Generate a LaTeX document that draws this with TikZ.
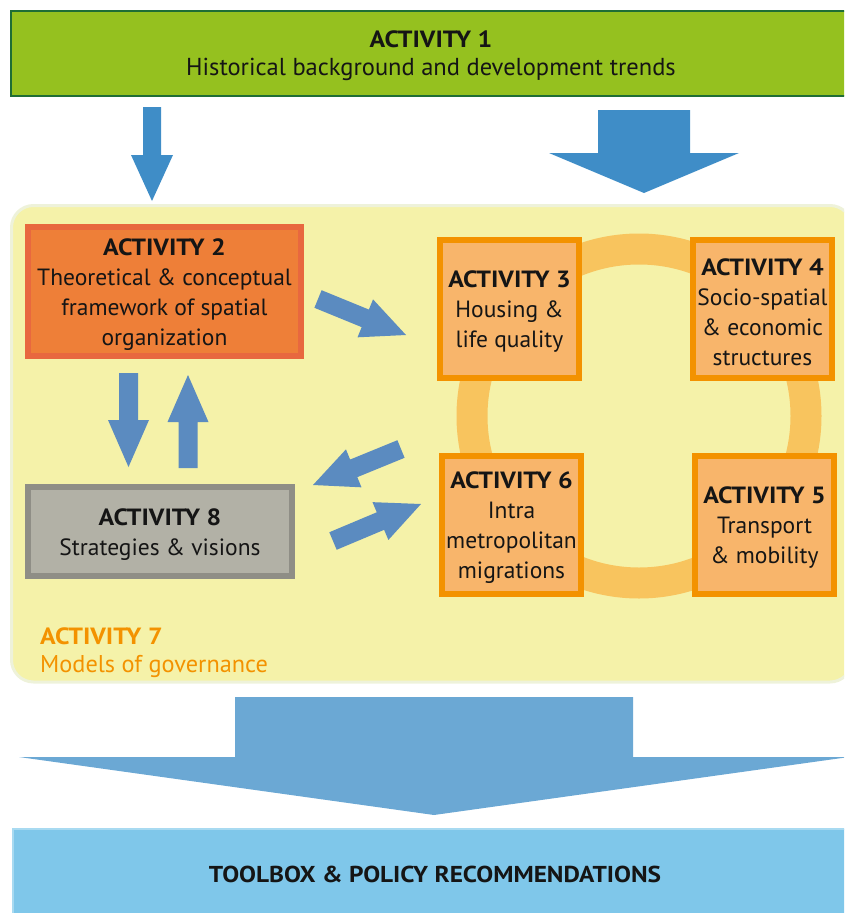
\documentclass[tikz,border=0pt]{standalone}
\usepackage{fontspec}
\setmainfont{PT Sans}[BoldFeatures={FakeStretch=1.1}]
\usetikzlibrary{calc}

\definecolor{actgreen}{HTML}{95C11F}
\definecolor{actgreenline}{HTML}{1F6E35}
\definecolor{panelfill}{HTML}{F5F2A9}
\definecolor{panelline}{HTML}{EEF2DA}
\definecolor{ringc}{HTML}{F8C45E}
\definecolor{redfill}{HTML}{EE7F38}
\definecolor{redline}{HTML}{E8683F}
\definecolor{orfill}{HTML}{F8B56B}
\definecolor{orline}{HTML}{F39200}
\definecolor{grayfill}{HTML}{B2B1A6}
\definecolor{grayline}{HTML}{8F8E86}
\definecolor{toolfill}{HTML}{7FC7EA}
\definecolor{toolline}{HTML}{A8DAF1}
\definecolor{arrtop}{HTML}{3F8DC7}
\definecolor{arrin}{HTML}{5B8BC0}
\definecolor{arrbot}{HTML}{6BA8D4}
\definecolor{inktext}{HTML}{151515}

% block arrow: #1 fill, #2 start, #3 tip, #4 half shaft, #5 half head, #6 head length
\newcommand{\blkarrow}[6]{%
  \coordinate (hb) at ($(#3)!#6!(#2)$);
  \fill[#1] ($(#2)!#4!90:(#3)$) -- ($(hb)!#4!90:(#3)$) -- ($(hb)!#5!90:(#3)$)
    -- (#3) -- ($(hb)!#5!-90:(#3)$) -- ($(hb)!#4!-90:(#3)$)
    -- ($(#2)!#4!-90:(#3)$) -- cycle;
}
% bold heading of an activity box, with a little extra room above it
\newcommand{\acthead}[1]{\rule{0pt}{22.5pt}\textbf{#1}}

\begin{document}
\begin{tikzpicture}[x=1pt,y=-1pt,
  txt/.style={text=inktext, align=center, inner sep=0pt},
  actbox/.style={txt, line width=6pt, font=\fontsize{23.5}{30}\selectfont},
  redbox/.style={actbox, draw=redline, fill=redfill, minimum width=273pt, minimum height=129pt},
  orbox/.style={actbox, draw=orline, fill=orfill, minimum width=139pt, minimum height=138pt},
  graybox/.style={actbox, draw=grayline, fill=grayfill, minimum width=264pt, minimum height=89pt},
]
\useasboundingbox (0,0) rectangle (844,913);
\clip (0,0) rectangle (844,913);

% Activity 1 banner
\node[txt, draw=actgreenline, fill=actgreen, line width=2.5pt,
  minimum width=840pt, minimum height=85pt,
  font=\fontsize{24.5}{28}\selectfont] (act1) at (431,53.5)
  {\rule{0pt}{21.5pt}{\fontsize{23.5}{28}\selectfont\textbf{ACTIVITY 1}}\\Historical background and development trends};

% Activity 7 panel with the work packages
\draw[panelline, fill=panelfill, line width=3pt, rounded corners=22pt]
  (11.5,205.5) rectangle (852,682);

% ring linking activities 3--6
\draw[ringc, line width=31pt] (639,416) circle (167pt);

\node[redbox] (act2) at (164.5,291.5)
  {\acthead{ACTIVITY 2}\\Theoretical \& conceptual\\framework of spatial\\organization};
\node[orbox] (act3) at (509.5,309) {\acthead{ACTIVITY 3}\\Housing \&\\life quality};
\node[orbox] (act4) at (762.5,309) {\acthead{ACTIVITY 4}\\Socio-spatial\\\& economic\\structures};
\node[orbox] (act6) at (511.5,524.5) {\acthead{ACTIVITY 6}\\Intra\\metropolitan\\migrations};
\node[orbox] (act5) at (764.5,524.5) {\acthead{ACTIVITY 5}\\Transport\\\& mobility};
\node[graybox] (act8) at (160,531.5) {\acthead{ACTIVITY 8}\\Strategies \& visions};

\node[txt, text=orline, anchor=west, align=left, font=\fontsize{24.3}{28}\selectfont]
  (act7) at (40,653) {{\fontsize{23.5}{28}\selectfont\textbf{ACTIVITY 7}}\\Models of governance};

% Toolbox
\node[txt, draw=toolline, fill=toolfill, line width=1.5pt,
  minimum width=844pt, minimum height=90pt,
  font=\fontsize{23}{28}\selectfont] (tool) at (435,874)
  {\textbf{TOOLBOX \& POLICY RECOMMENDATIONS}};

% arrow end points
\coordinate (t1s) at (152,107);  \coordinate (t1e) at (152,201);
\coordinate (t2s) at (644,110);  \coordinate (t2e) at (644,193);
\coordinate (a23s) at (318,299); \coordinate (a23e) at (406,335);
\coordinate (a28s) at (128.5,373); \coordinate (a28e) at (128.5,467);
\coordinate (a82s) at (188,468); \coordinate (a82e) at (188,375);
\coordinate (a68s) at (401,449); \coordinate (a68e) at (313,485);
\coordinate (a86s) at (333,541); \coordinate (a86e) at (421,504);
\coordinate (bs) at (434,697);   \coordinate (be) at (434,815);

% Activity 1 feeds the panel
\blkarrow{arrtop}{t1s}{t1e}{9pt}{21pt}{46pt}
\blkarrow{arrtop}{t2s}{t2e}{46pt}{95pt}{40pt}

% links inside the panel
\blkarrow{arrin}{a23s}{a23e}{9.5pt}{20.5pt}{44pt}
\blkarrow{arrin}{a28s}{a28e}{9.5pt}{20.5pt}{47pt}
\blkarrow{arrin}{a82s}{a82e}{9.5pt}{20.5pt}{47pt}
\blkarrow{arrin}{a68s}{a68e}{9.5pt}{20.5pt}{44pt}
\blkarrow{arrin}{a86s}{a86e}{9.5pt}{20.5pt}{44pt}

% panel results lead to the toolbox
\blkarrow{arrbot}{bs}{be}{199pt}{415pt}{58pt}
\end{tikzpicture}
\end{document}
